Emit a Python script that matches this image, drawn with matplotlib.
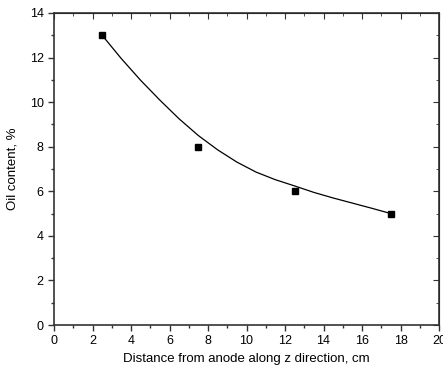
import matplotlib.pyplot as plt
from matplotlib.ticker import MultipleLocator

plt.rcParams['font.family'] = ['Liberation Sans', 'DejaVu Sans']

# measured points
distance = [2.5, 7.5, 12.5, 17.5]
oil_content = [13, 8, 6, 5]

# smooth trend curve
curve_x = [2.5, 3.5, 4.5, 5.5, 6.5, 7.5, 8.5, 9.5, 10.5, 11.5, 12.5, 13.5, 14.5, 15.5, 16.5, 17.5]
curve_y = [13.0, 11.95, 10.98, 10.09, 9.25, 8.5, 7.86, 7.31, 6.86, 6.52, 6.24, 5.95, 5.7, 5.47, 5.24, 5.0]

fig = plt.figure(figsize=(4.43, 3.69), dpi=100)
ax = fig.add_axes([0.1219, 0.1192, 0.8691, 0.8456])
ax.plot(curve_x, curve_y, color='black', lw=0.9)
ax.plot(distance, oil_content, 's', color='black', ms=5)

ax.set_xlim(0, 20)
ax.set_ylim(0, 14)
ax.xaxis.set_major_locator(MultipleLocator(2))
ax.xaxis.set_minor_locator(MultipleLocator(1))
ax.yaxis.set_major_locator(MultipleLocator(2))
ax.yaxis.set_minor_locator(MultipleLocator(1))
ax.tick_params(which='both', direction='out', labelsize=9, width=1, color='#333333')
ax.tick_params(which='major', length=4)
ax.tick_params(which='minor', length=2.5)

# inward ticks on top and right
secx = ax.secondary_xaxis('top')
secx.xaxis.set_major_locator(MultipleLocator(2))
secx.xaxis.set_minor_locator(MultipleLocator(1))
secx.tick_params(which='both', direction='in', labeltop=False, color='#333333')
secx.tick_params(which='major', length=4)
secx.tick_params(which='minor', length=2.5)
secy = ax.secondary_yaxis('right')
secy.yaxis.set_major_locator(MultipleLocator(2))
secy.yaxis.set_minor_locator(MultipleLocator(1))
secy.tick_params(which='both', direction='in', labelright=False, color='#333333')
secy.tick_params(which='major', length=4)
secy.tick_params(which='minor', length=2.5)

for s in ax.spines.values():
    s.set_linewidth(1.2)
    s.set_color('#333333')

ax.set_xlabel('Distance from anode along z direction, cm', fontsize=9.5, labelpad=4)
ax.set_ylabel('Oil content, %', fontsize=9.5, labelpad=8)

fig.savefig('out.png', dpi=100)
